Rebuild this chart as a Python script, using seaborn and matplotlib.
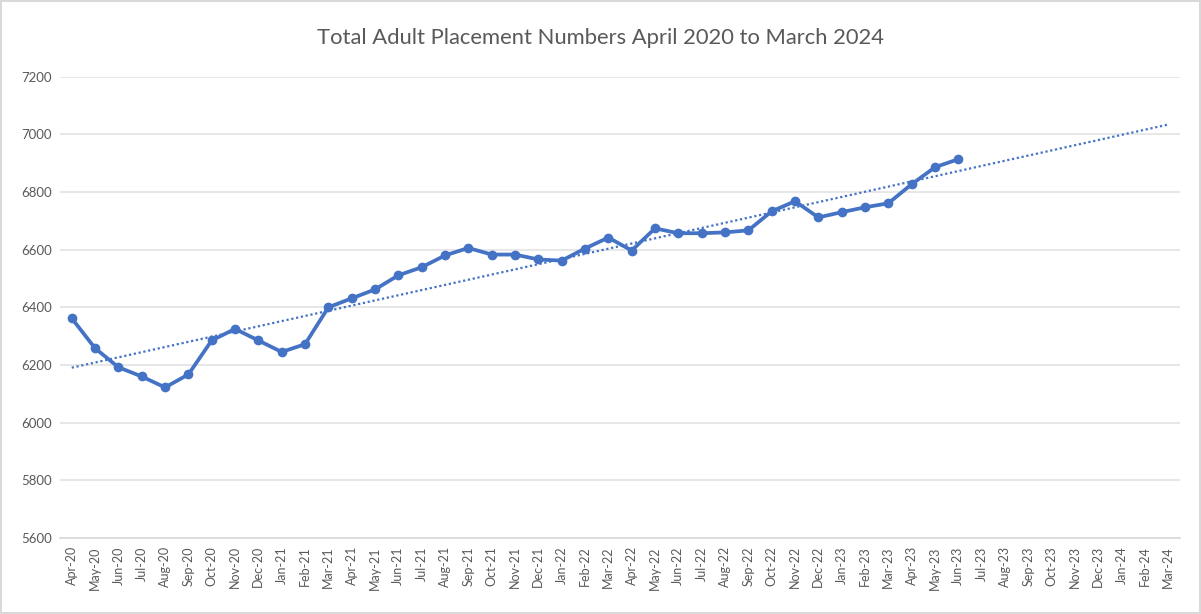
import numpy as np
import pandas as pd
import matplotlib
matplotlib.use("Agg")
import matplotlib.pyplot as plt
import seaborn as sns

months = ["Apr-20","May-20","Jun-20","Jul-20","Aug-20","Sep-20","Oct-20","Nov-20","Dec-20",
          "Jan-21","Feb-21","Mar-21","Apr-21","May-21","Jun-21","Jul-21","Aug-21","Sep-21",
          "Oct-21","Nov-21","Dec-21","Jan-22","Feb-22","Mar-22","Apr-22","May-22","Jun-22",
          "Jul-22","Aug-22","Sep-22","Oct-22","Nov-22","Dec-22","Jan-23","Feb-23","Mar-23",
          "Apr-23","May-23","Jun-23","Jul-23","Aug-23","Sep-23","Oct-23","Nov-23","Dec-23",
          "Jan-24","Feb-24","Mar-24"]
placements = [6362, 6258, 6192, 6160, 6122, 6167, 6285, 6325, 6285,
              6245, 6272, 6400, 6431, 6462, 6511, 6539, 6580, 6606,
              6583, 6583, 6566, 6562, 6604, 6642, 6597, 6674, 6657,
              6657, 6660, 6667, 6733, 6768, 6712, 6730, 6747, 6761,
              6827, 6886, 6914]
yticks = [5600, 5800, 6000, 6200, 6400, 6600, 6800, 7000, 7200]
title = "Total Adult Placement Numbers April 2020 to March 2024"

sns.set_style("white")
plt.rcParams['font.family'] = ['Lato', 'DejaVu Sans']

blue = "#4472C4"
fig = plt.figure(figsize=(12.01, 6.14), dpi=100)
fig.patch.set_edgecolor("#d9d9d9")
fig.patch.set_linewidth(1.5)
ax = fig.add_axes([0.05, 0.124, 0.9325, 0.751])

df = pd.DataFrame({"idx": np.arange(len(placements)), "val": placements})
coef = np.polyfit(df["idx"], df["val"], 1)
tr = pd.DataFrame({"idx": np.arange(len(months))})
tr["val"] = np.polyval(coef, tr["idx"])

for y in yticks:
    ax.axhline(y, color="#e3e3e3", lw=1.2, zorder=0)

sns.lineplot(data=tr, x="idx", y="val", ax=ax, color=blue, lw=1.6, linestyle=(0, (1, 1.2)), zorder=2)
sns.lineplot(data=df, x="idx", y="val", ax=ax, color=blue, lw=2.7, marker="o",
             markersize=7, markeredgewidth=0, zorder=3)

ax.set_xlim(-0.5, len(months) - 0.5)
ax.set_ylim(5600, 7200)
ax.set_yticks(yticks)
ax.set_yticklabels([str(v) for v in yticks], fontsize=9.5, color="#595959")
ax.set_xticks(np.arange(len(months)))
ax.set_xticklabels(months, rotation=90, fontsize=9, color="#595959")
ax.set_xticks(np.arange(len(months) + 1) - 0.5, minor=True)
ax.tick_params(axis="x", which="major", length=0, pad=6)
ax.tick_params(axis="x", which="minor", length=4, color="#d9d9d9", width=1)
ax.tick_params(axis="y", length=0, pad=6)
ax.set_xlabel("")
ax.set_ylabel("")
for s in ["top", "right", "left"]:
    ax.spines[s].set_visible(False)
ax.spines["bottom"].set_color("#d9d9d9")
ax.spines["bottom"].set_linewidth(1.2)

fig.text(0.5, 0.938, title, ha="center", va="center", fontsize=15.8, color="#595959")

fig.savefig("out.png", dpi=100)
